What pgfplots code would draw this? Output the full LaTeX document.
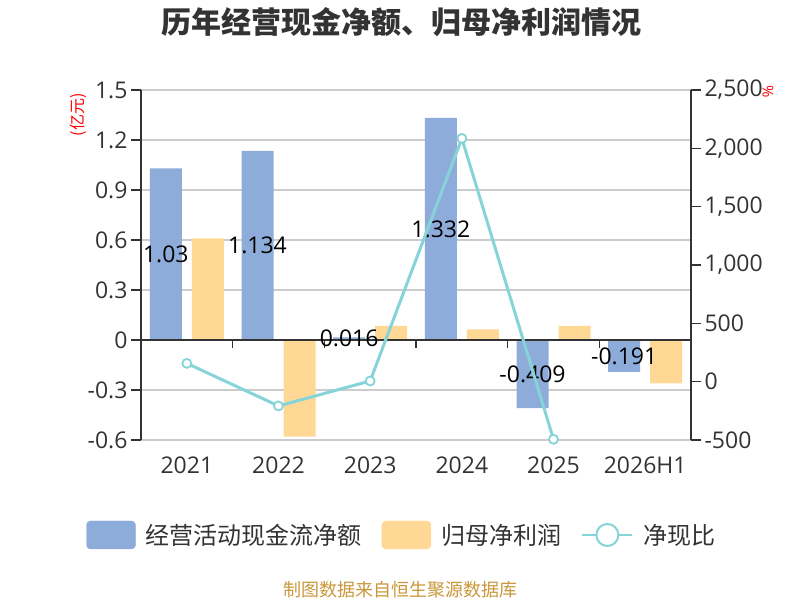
\documentclass[border=0pt]{standalone}
\usepackage{pgfplots}
\pgfplotsset{compat=1.18}
\usepackage{fontspec}
\setmainfont{Open Sans}
\newfontfamily\cjk{Noto Sans CJK SC}
\definecolor{cfblue}{HTML}{8EACDA}
\definecolor{cforange}{HTML}{FFD896}
\definecolor{cfline}{HTML}{86D3D8}
\definecolor{axisgray}{HTML}{333333}
\definecolor{gridgray}{HTML}{CCCCCC}
\definecolor{srcgold}{HTML}{C9973A}
\begin{document}
\begin{tikzpicture}
\useasboundingbox (0,0) rectangle (800pt,600pt);
\pgfplotsset{
  common/.style={
    at={(141pt,160pt)}, anchor=south west,
    scale only axis, width=550pt, height=350pt,
    xmin=-0.5, xmax=5.5,
    /pgf/number format/assume math mode=true,
    tick align=outside,
    major tick length=10pt,
    tick style={axisgray, line width=1.5pt},
    ticklabel style={font=\fontsize{23}{27}\selectfont, text=axisgray},
    clip=false,
  }
}
\begin{axis}[common,
  ymin=-0.6, ymax=1.5,
  ytick={-0.6,-0.3,0,0.3,0.6,0.9,1.2,1.5},
  yticklabels={-0.6,-0.3,0,0.3,0.6,0.9,1.2,1.5},
  axis y line*=left, axis x line*=bottom,
  x axis line style={draw=none},
  y axis line style={axisgray, line width=1.5pt},
  xtick={0,1,2,3,4,5},
  xticklabels={2021,2022,2023,2024,2025,2026H1},
  xtick style={draw=none},
  xticklabel style={yshift=-3pt},
  ymajorgrids, grid style={gridgray, line width=1.3pt},
]
\addplot[ybar, bar width=32pt, bar shift=-21pt, fill=cfblue, draw=none]
  coordinates {(0,1.03) (1,1.134) (2,0.016) (3,1.332) (4,-0.409) (5,-0.191)};
\addplot[ybar, bar width=32pt, bar shift=21pt, fill=cforange, draw=none]
  coordinates {(0,0.61) (1,-0.58) (2,0.085) (3,0.064) (4,0.085) (5,-0.26)};
\draw[axisgray, line width=1.5pt] (axis cs:-0.5,0) -- (axis cs:5.5,0);
\pgfplotsinvokeforeach{0.5,1.5,2.5,3.5,4.5}{
  \draw[axisgray, line width=1.5pt] (axis cs:#1,0) -- ([yshift=-8pt]axis cs:#1,0);
}
\addplot[draw=none, mark=none, nodes near coords, point meta=explicit symbolic,
  nodes near coords align={center},
  every node near coord/.append style={font=\fontsize{23}{27}\selectfont, text=black, anchor=center}]
  coordinates {(-0.229,0.515)[1.03] (0.771,0.567)[1.134] (1.771,0.008)[0.016]
               (2.771,0.666)[1.332] (3.771,-0.2045)[-0.409] (4.771,-0.0955)[-0.191]};
\end{axis}
\begin{axis}[common,
  ymin=-500, ymax=2500,
  ytick={-500,0,500,1000,1500,2000,2500},
  scaled y ticks=false,
  axis y line*=right, axis x line=none,
  y axis line style={axisgray, line width=1.5pt},
  legend columns=3,
  legend style={draw=none, fill=none, at={(0.4745,-0.2714)}, anchor=center,
    font=\cjk\fontsize{24}{27}\selectfont, text=axisgray,
    column sep=8pt,
    /tikz/every even column/.append style={column sep=18pt}},
]
\addlegendimage{legend image code/.code={\fill[cfblue, rounded corners=4pt] (0pt,-14pt) rectangle (49pt,14pt);}}
\addlegendentry{经营活动现金流净额}
\addlegendimage{legend image code/.code={\fill[cforange, rounded corners=4pt] (0pt,-14pt) rectangle (49pt,14pt);}}
\addlegendentry{归母净利润}
\addplot[cfline, line width=3pt, mark=*, mark size=4.5pt,
  mark options={fill=white, draw=cfline, line width=1.8pt},
  legend image code/.code={\draw[cfline, line width=2.5pt] (0pt,0pt) -- (50pt,0pt);
    \draw[cfline, line width=2pt, fill=white] (25pt,0pt) circle (11pt);}]
  coordinates {(0,157) (1,-208) (2,6) (3,2085) (4,-494)};
\addlegendentry{净现比}
\end{axis}
\node[font=\cjk\bfseries\fontsize{30}{34}\selectfont, text=axisgray] at (401pt,578pt) {历年经营现金净额、归母净利润情况};
\node[font=\cjk\fontsize{18}{21}\selectfont, text=srcgold] at (400pt,10pt) {制图数据来自恒生聚源数据库};
\node[font=\cjk\fontsize{16}{19}\selectfont, text=red, rotate=90] at (78pt,485pt) {(亿元)};
\node[font=\fontsize{15}{18}\selectfont, text=red, rotate=-90] at (768pt,508pt) {\%};
\end{tikzpicture}
\end{document}
